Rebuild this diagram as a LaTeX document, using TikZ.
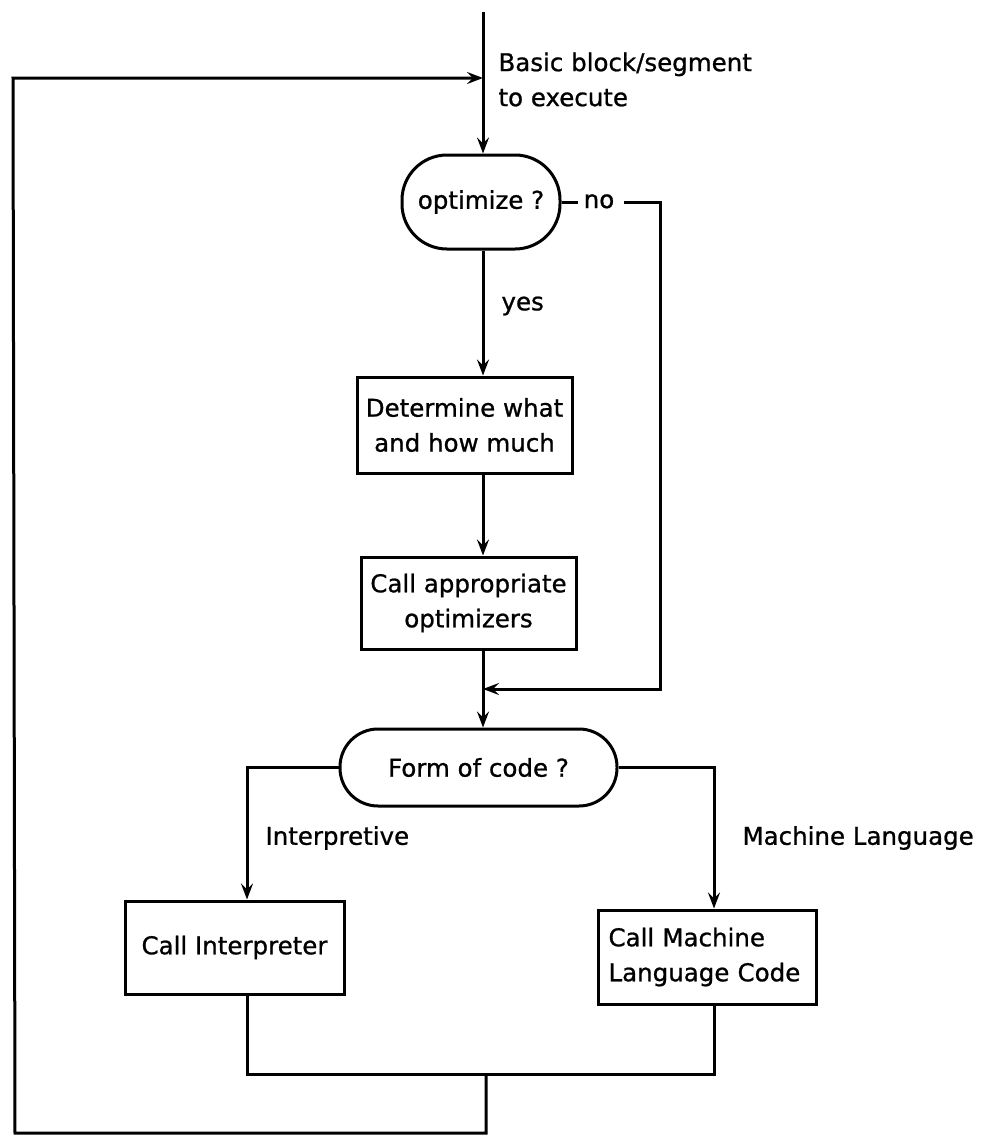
\documentclass[tikz,border=0pt]{standalone}
\usepackage{fontspec}
\setmainfont{DejaVu Sans}
\newfontfamily\lettering{DejaVu Sans}[FakeBold=0.9]
\usetikzlibrary{arrows.meta}
\begin{document}
\begin{tikzpicture}[x=1pt,y=-1pt,line width=3pt,
  every node/.style={font=\lettering\fontsize{24.5}{35}\selectfont},
  box/.style={draw,rectangle,inner sep=3pt,align=center},
  term/.style={draw,rectangle,rounded corners=45pt,inner sep=3pt,align=center},
  arr/.style={-{Stealth[length=16pt,width=12pt,inset=6pt]}},
  lbl/.style={inner sep=0pt,anchor=west}]
\useasboundingbox (0,0) rectangle (986,1135);
% coordinates
\coordinate (spine) at (483,0);
\coordinate (top) at (483,12);
\coordinate (fb) at (483,78);
\coordinate (tL) at (13,78);
\coordinate (bL) at (15,1133);
\coordinate (bC) at (486,1133);
\coordinate (mC) at (486,1074);
\coordinate (mL) at (247,1074);
\coordinate (mR) at (714,1074);
\coordinate (lbr) at (247,767.5);
\coordinate (rbr) at (714,767.5);
\coordinate (nocorner) at (660,202);
\coordinate (noend) at (660,689);
\coordinate (join) at (483,689);
% nodes
\node[term,minimum width=158pt,minimum height=94pt] (opt) at (481,202) {optimize ?};
\node[box,minimum width=215pt,minimum height=96pt] (det) at (464.5,425) {Determine what\\and how much};
\node[box,minimum width=215pt,minimum height=92pt] (call) at (468.5,603) {Call appropriate\\optimizers};
\node[term,rounded corners=38pt,minimum width=277pt,minimum height=77pt] (form) at (478.5,767.5) {Form of code ?};
\node[box,minimum width=219pt,minimum height=93pt] (interp) at (234.5,947.5) {Call Interpreter};
\node[box,minimum width=218pt,minimum height=94pt,text width=197pt,align=left] (mach) at (707,957) {Call Machine\\Language Code};
% labels
\node[anchor=north west,align=left,inner sep=0pt] (basic) at (497,51) {Basic block/segment\\to execute};
\node[inner sep=0pt,text height=12pt,text depth=0pt] (no) at (599,202) {no};
\node[lbl] (yes) at (500,306) {yes};
\node[lbl] (ilab) at (264,838) {Interpretive};
\node[lbl] (mlab) at (741,838) {Machine Language};
% connectors
\draw[arr] (top) -- (opt.north -| spine);
\draw[arr] (opt.south -| spine) -- (det.north -| spine);
\draw[arr] (det.south -| spine) -- (call.north -| spine);
\draw[arr] (call.south -| spine) -- (form.north -| spine);
\draw (opt.east) -- ([xshift=-4pt]no.west);
\draw[arr] ([xshift=8pt]no.east) -- (nocorner) -- (noend) -- (join);
\draw[arr] (form.west) -- (lbr) -- (interp.north -| lbr);
\draw[arr] (form.east) -- (rbr) -- (mach.north -| rbr);
\draw (interp.south -| lbr) -- (mL) -- (mR) -- (mach.south -| rbr);
\draw[arr] (mC) -- (bC) -- (bL) -- (tL) -- (fb);
\end{tikzpicture}
\end{document}
